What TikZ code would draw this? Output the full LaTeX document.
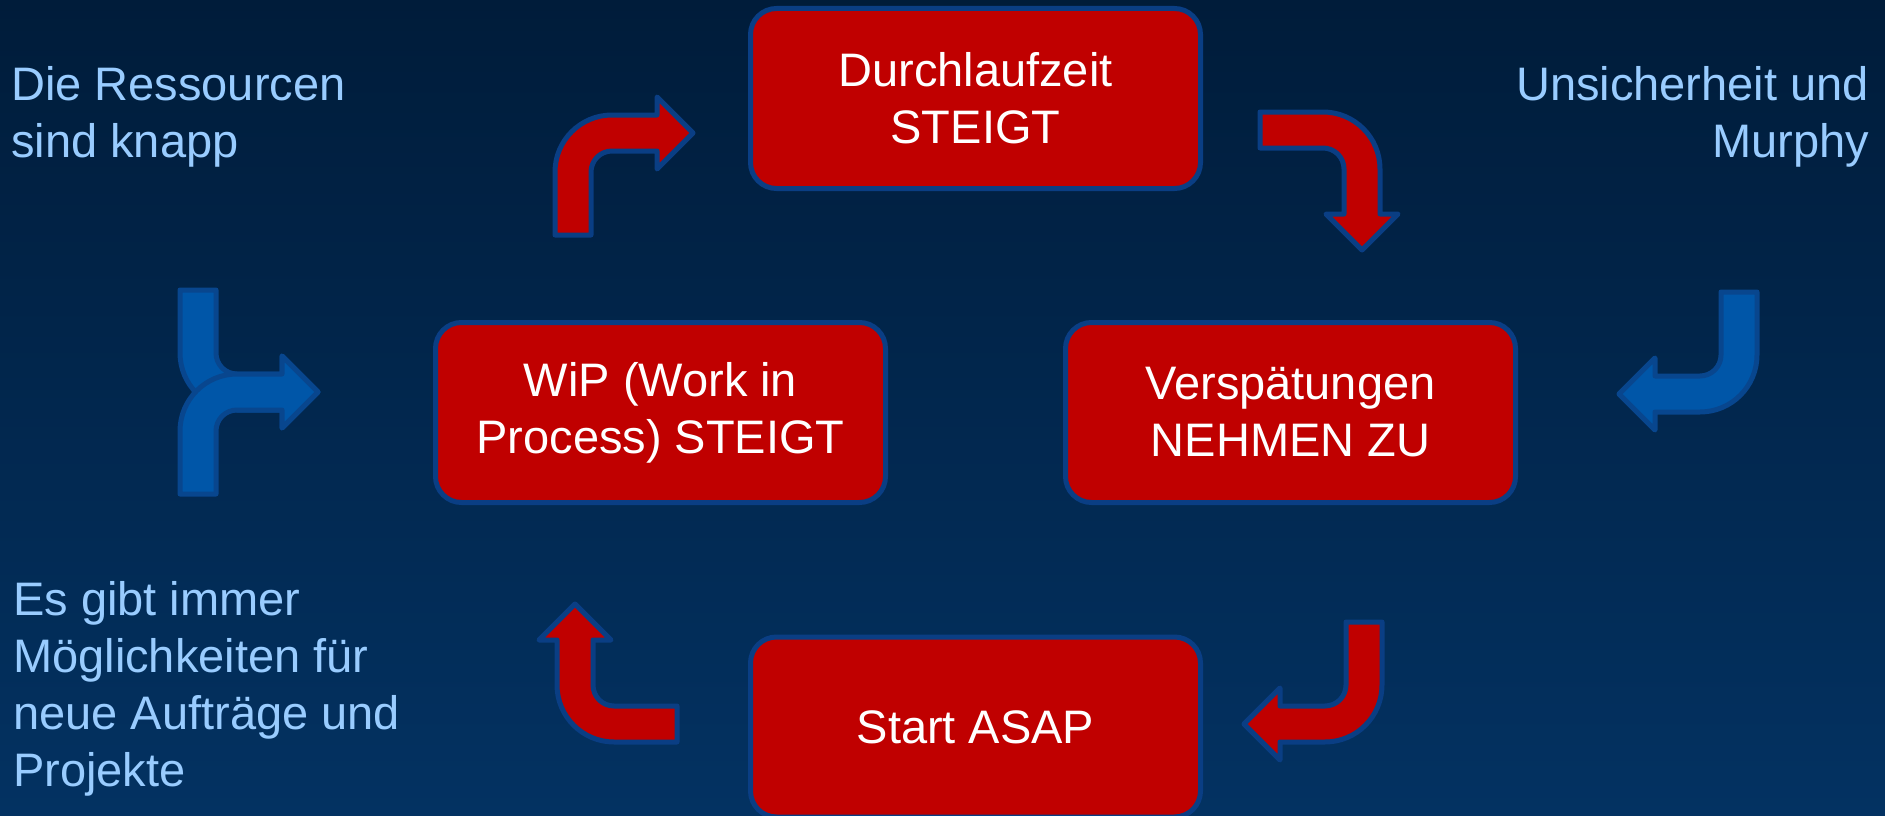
\documentclass[tikz,border=0pt]{standalone}
\usepackage{fontspec}
\setmainfont{Liberation Sans}
\definecolor{navytop}{RGB}{0,28,58}
\definecolor{navybottom}{RGB}{3,50,98}
\definecolor{boxred}{RGB}{192,0,0}
\definecolor{rimblue}{RGB}{10,62,132}
\definecolor{arrowblue}{RGB}{0,86,168}
\definecolor{arrowrim}{RGB}{8,70,142}
\definecolor{notetext}{RGB}{153,204,255}
\tikzstyle{stage} = [rectangle, rounded corners=26pt,
minimum width=450pt, minimum height=180pt,
align=center, text=white,
draw=rimblue, line width=5pt, fill=boxred]
\tikzstyle{note} = [inner sep=0pt, text=notetext]
\tikzstyle{redbend} = [fill=boxred, draw=rimblue, line width=5pt, line join=round]
\tikzstyle{bluebend} = [fill=arrowblue, draw=arrowrim, line width=5pt, line join=round]
% bent block arrow: stem goes up from (0,0), turns right
\newcommand{\bentarrow}[2]{%
  \begin{scope}[#2]
    \draw[#1] (0,0) -- (0,-63) arc[start angle=180, end angle=270, radius=57]
      -- (102,-120) -- (102,-138) -- (138,-102) -- (102,-66) -- (102,-84)
      -- (57,-84) arc[start angle=270, end angle=180, radius=21] -- (36,0) -- cycle;
  \end{scope}}
\begin{document}
\begin{tikzpicture}[x=1pt, y=-1pt, font=\fontsize{47}{57}\selectfont] % px grid
    \useasboundingbox (0,0) rectangle (1885,816);
    \clip (0,0) rectangle (1885,816);
    \shade[top color=navytop, bottom color=navybottom] (0,0) rectangle (1885,816);

    % the four stages of the loop
    \node[stage] (durchlauf) at (975.5,98.5) {Durchlaufzeit\\STEIGT};
    \node[stage] (wip) at (660.5,412.5) {WiP (Work in\\Process) STEIGT};
    \node[stage] (verspaetung) at (1290.5,412.5) {Verspätungen\\NEHMEN ZU};
    \node[stage] (start) at (975.5,727) {Start ASAP};

    % red arrows round the loop
    \bentarrow{redbend}{shift={(555,235)}}
    \bentarrow{redbend}{shift={(1260,112)}, rotate=-90}
    \bentarrow{redbend}{shift={(1382,622)}, rotate=180}
    \bentarrow{redbend}{shift={(677,742)}, rotate=90}

    % blue arrows from the causes
    \bentarrow{bluebend}{shift={(180,290)}, yscale=-1}
    \bentarrow{bluebend}{shift={(180,494)}}
    \bentarrow{bluebend}{shift={(1757,292)}, rotate=180}

    % causes (base = last line)
    \node[note, anchor=base west, align=left] (ressourcen) at (11,157) {Die Ressourcen\\sind knapp};
    \node[note, anchor=base east, align=right] (murphy) at (1869,157) {Unsicherheit und\\Murphy};
    \node[note, anchor=base west, align=left] (auftraege) at (13,786) {Es gibt immer\\Möglichkeiten für\\neue Aufträge und\\Projekte};
\end{tikzpicture}
\end{document}
